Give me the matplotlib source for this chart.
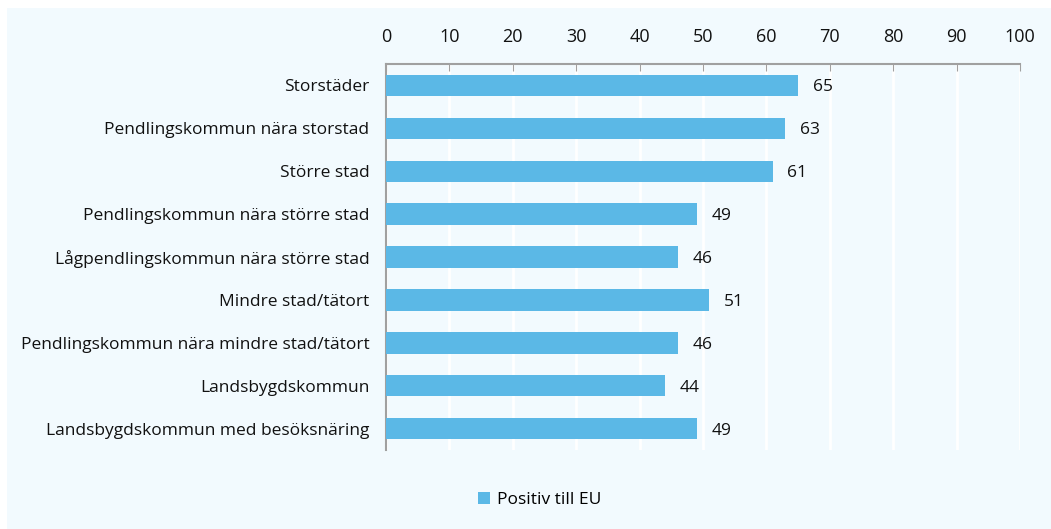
import matplotlib.pyplot as plt
from matplotlib.patches import Rectangle

categories = [
    "Storstäder",
    "Pendlingskommun nära storstad",
    "Större stad",
    "Pendlingskommun nära större stad",
    "Lågpendlingskommun nära större stad",
    "Mindre stad/tätort",
    "Pendlingskommun nära mindre stad/tätort",
    "Landsbygdskommun",
    "Landsbygdskommun med besöksnäring",
]
values = [65, 63, 61, 49, 46, 51, 46, 44, 49]
series_name = "Positiv till EU"
xticks = list(range(0, 101, 10))

bg = "#F2FAFE"
bar_color = "#5BB8E6"
plt.rcParams['font.family'] = ['Open Sans', 'DejaVu Sans']

fig = plt.figure(figsize=(10.51, 5.29), dpi=100)
fig.patch.set_facecolor("white")
fig.patches.append(Rectangle((7 / 1051, 0), 1, 1 - 8 / 529, transform=fig.transFigure,
                             facecolor=bg, edgecolor="none", zorder=-10))

ax = fig.add_axes([386 / 1051, 1 - 450 / 529, 634 / 1051, 386 / 529])
ax.set_zorder(1)
ax.set_facecolor(bg)

pos = list(range(len(categories)))
bars = ax.barh(pos, values, height=0.5, color=bar_color, label=series_name, zorder=3)
for p, v in zip(pos, values):
    ax.text(v + 2.3, p, str(v), va="center_baseline", ha="left", fontsize=12.5, color="#111111")

ax.set_xlim(0, 100)
ax.set_ylim(len(categories) - 0.5, -0.5)
ax.set_yticks(pos)
ax.set_yticklabels(categories, fontsize=12.5, color="#111111")
ax.set_xticks(xticks)
ax.xaxis.tick_top()
ax.tick_params(axis="x", direction="in", length=5, color="#A0A0A0", labelsize=13,
               labelcolor="#111111", pad=13)
ax.tick_params(axis="y", length=0, pad=12)
ax.grid(axis="x", color="white", linewidth=2, zorder=1)

for s in ["right", "bottom"]:
    ax.spines[s].set_visible(False)
for s in ["left", "top"]:
    ax.spines[s].set_color("#A0A0A0")
    ax.spines[s].set_linewidth(1.5)

leg = fig.legend(handles=[bars], labels=[series_name], loc="center",
                 bbox_to_anchor=(540 / 1051, 1 - 500 / 529), frameon=False,
                 fontsize=12.5, handlelength=0.7, handleheight=0.7, handletextpad=0.4)

fig.savefig("out.png", dpi=100, facecolor=fig.get_facecolor())
